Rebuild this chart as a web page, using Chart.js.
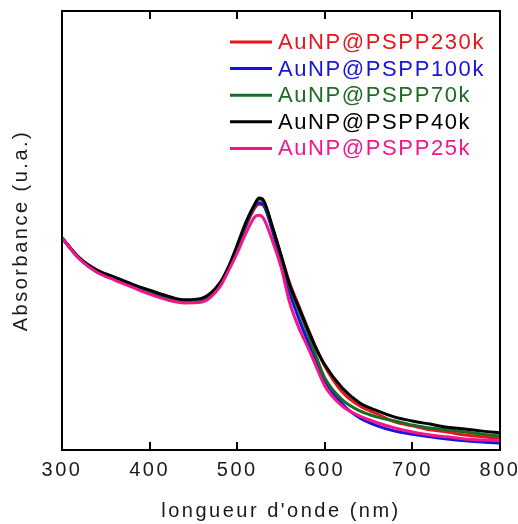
<!DOCTYPE html>
<html>
<head>
<meta charset="utf-8">
<script src="https://cdn.jsdelivr.net/npm/chart.js@4.4.1/dist/chart.umd.min.js"></script>
<style>
  html, body { margin: 0; padding: 0; background: #fff; }
  canvas { display: block; }
</style>
</head>
<body>
<canvas id="spectre" width="518" height="524"></canvas>
<script>
// longueur d'onde (nm)
const lambda = [300, 320, 340, 360, 380, 400, 420, 440, 460, 480, 490, 500, 510, 520, 525, 530,
                540, 550, 560, 570, 580, 590, 600, 620, 640, 660, 680, 700, 720, 740, 760, 780, 800];

// absorbance (u.a.)
const psp230k = [0.483, 0.437, 0.408, 0.392, 0.376, 0.362, 0.349, 0.339, 0.344, 0.376, 0.413, 0.456, 0.510, 0.551, 0.560, 0.558,
                 0.506, 0.444, 0.380, 0.330, 0.280, 0.232, 0.191, 0.132, 0.100, 0.082, 0.064, 0.055, 0.046, 0.041, 0.034, 0.030, 0.027];
const psp100k = [0.483, 0.435, 0.405, 0.390, 0.374, 0.360, 0.346, 0.337, 0.342, 0.376, 0.415, 0.460, 0.513, 0.556, 0.563, 0.558,
                 0.501, 0.428, 0.358, 0.301, 0.251, 0.205, 0.159, 0.105, 0.073, 0.055, 0.043, 0.036, 0.030, 0.025, 0.021, 0.018, 0.016];
const psp70k  = [0.483, 0.437, 0.408, 0.392, 0.376, 0.362, 0.349, 0.339, 0.344, 0.378, 0.415, 0.462, 0.517, 0.558, 0.572, 0.567,
                 0.508, 0.442, 0.371, 0.321, 0.269, 0.214, 0.164, 0.114, 0.089, 0.075, 0.066, 0.057, 0.050, 0.046, 0.041, 0.036, 0.032];
const psp40k  = [0.483, 0.437, 0.410, 0.394, 0.378, 0.364, 0.351, 0.342, 0.346, 0.380, 0.417, 0.467, 0.519, 0.560, 0.574, 0.569,
                 0.510, 0.444, 0.376, 0.326, 0.278, 0.232, 0.194, 0.141, 0.107, 0.089, 0.075, 0.066, 0.059, 0.052, 0.048, 0.043, 0.039];
const psp25k  = [0.483, 0.435, 0.405, 0.387, 0.371, 0.355, 0.342, 0.335, 0.337, 0.371, 0.408, 0.449, 0.494, 0.531, 0.535, 0.528,
                 0.478, 0.417, 0.335, 0.280, 0.237, 0.191, 0.146, 0.100, 0.077, 0.062, 0.050, 0.041, 0.034, 0.030, 0.025, 0.023, 0.021];

const noms = ["AuNP@PSPP230k", "AuNP@PSPP100k", "AuNP@PSPP70k", "AuNP@PSPP40k", "AuNP@PSPP25k"];
const series = [psp230k, psp100k, psp70k, psp40k, psp25k];
const couleurs = ["#e8141c", "#1414dc", "#1b6b24", "#000000", "#f0168c"];
const xTicks = [300, 400, 500, 600, 700, 800];

const police = '"Liberation Sans", Arial, sans-serif';

const espacement = {
    id: "espacement",
    beforeDraw(chart) {
        chart.ctx.letterSpacing = "2.5px";
    }
};

const cadre = {
    id: "cadre",
    afterDatasetsDraw(chart) {
        const { ctx, chartArea: a, scales } = chart;
        ctx.save();
        ctx.strokeStyle = "#000";
        ctx.lineWidth = 2;
        ctx.strokeRect(a.left, a.top, a.right - a.left, a.bottom - a.top);
        ctx.beginPath();
        xTicks.forEach(v => {
            const px = Math.round(scales.x.getPixelForValue(v));
            ctx.moveTo(px, a.bottom);
            ctx.lineTo(px, a.bottom - 8);
            ctx.moveTo(px, a.top);
            ctx.lineTo(px, a.top + 8);
        });
        ctx.stroke();
        ctx.restore();
    }
};

const legende = {
    id: "legende",
    afterDraw(chart) {
        const { ctx, chartArea: a } = chart;
        ctx.save();
        ctx.font = "22px " + police;
        ctx.letterSpacing = "1.6px";
        ctx.textBaseline = "middle";
        ctx.lineWidth = 3;
        noms.forEach((nom, i) => {
            const y = a.top + 31 + i * 26.6;
            ctx.strokeStyle = couleurs[i];
            ctx.beginPath();
            ctx.moveTo(a.right - 270, y);
            ctx.lineTo(a.right - 228, y);
            ctx.stroke();
            ctx.fillStyle = couleurs[i];
            ctx.fillText(nom, a.right - 222, y + 1);
        });
        ctx.restore();
    }
};

const ctx = document.getElementById("spectre").getContext("2d");
const chart = new Chart(ctx, {
    type: "line",
    data: {
        labels: lambda,
        datasets: series.map((d, i) => ({
            label: noms[i],
            data: d.map((v, k) => ({ x: lambda[k], y: v })),
            borderColor: couleurs[i],
            borderWidth: 3,
            pointRadius: 0,
            cubicInterpolationMode: "monotone",
            order: 5 - i
        }))
    },
    options: {
        responsive: false,
        animation: false,
        layout: { padding: { top: 11, right: 18, left: 0, bottom: 0 } },
        plugins: {
            legend: { display: false },
            tooltip: { enabled: false }
        },
        scales: {
            x: {
                type: "linear",
                min: 300,
                max: 800,
                afterBuildTicks: s => { s.ticks = xTicks.map(v => ({ value: v })); },
                afterFit: s => { s.height = 74; s.paddingLeft = 0; s.paddingRight = 0; },
                grid: { display: false, drawTicks: false },
                border: { display: false },
                ticks: {
                    padding: 8,
                    color: "#1a1a1a",
                    font: { family: police, size: 20 }
                },
                title: {
                    display: true,
                    text: "longueur d'onde (nm)",
                    color: "#1a1a1a",
                    font: { family: police, size: 20 },
                    padding: { top: 0, bottom: 1 }
                }
            },
            y: {
                min: 0,
                max: 1,
                afterFit: s => { s.width = 62; s.paddingTop = 0; s.paddingBottom = 0; },
                grid: { display: false, drawTicks: false },
                border: { display: false },
                ticks: { display: false },
                title: {
                    display: true,
                    text: "Absorbance (u.a.)",
                    color: "#1a1a1a",
                    font: { family: police, size: 20 },
                    padding: { top: 9, bottom: 0 }
                }
            }
        }
    },
    plugins: [espacement, cadre, legende]
});
</script>
</body>
</html>
